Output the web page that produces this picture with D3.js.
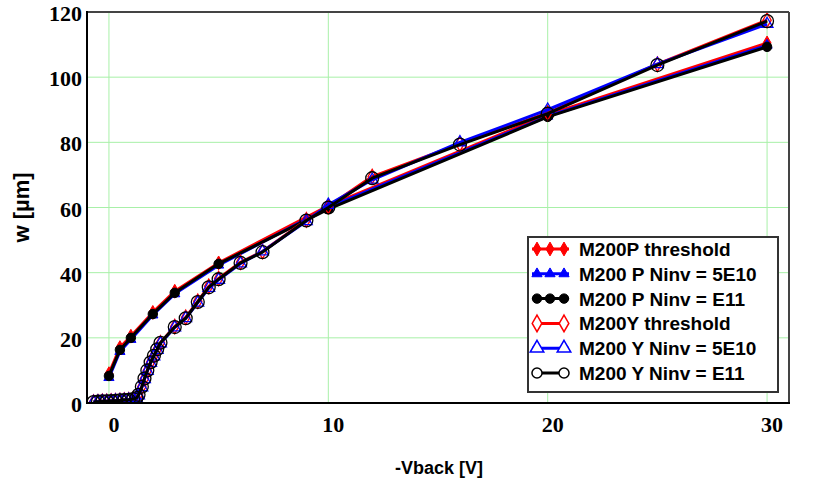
<!DOCTYPE html>
<html>
<head>
<meta charset="utf-8">
<script src="https://cdn.jsdelivr.net/npm/d3@7"></script>
<style>
  body { margin: 0; background: #fff; }
  .tick-label { font-family: "Liberation Serif", "Times New Roman", serif; font-weight: bold; font-size: 22px; }
  .title { font-family: "Liberation Sans", Arial, sans-serif; font-weight: bold; }
  .legend-text { font-family: "Liberation Sans", Arial, sans-serif; font-weight: bold; font-size: 19px; }
</style>
</head>
<body>
<svg id="chart" width="830" height="483"></svg>
<script>
// P (filled markers) series
let pV = [0, 0.5, 1, 2, 3, 5, 10, 20, 30];
let pThreshold = [9, 17, 20.5, 27.8, 34.3, 43, 60.5, 88.5, 110.5];
let p5E10 = [7.8, 15.8, 19.5, 27, 33.5, 42.3, 60, 88, 109.8];
let pE11 = [8.3, 16.3, 20, 27.3, 33.8, 42.7, 59.5, 87.8, 109.3];

// Y (open markers) series
let yV = [-0.7, -0.5, -0.3, -0.1, 0.1, 0.3, 0.5, 0.7, 0.9, 1.1, 1.25, 1.35, 1.5, 1.62, 1.75, 1.9, 2.05, 2.2, 2.35,
          3, 3.5, 4.05, 4.55, 5, 6, 7, 9, 10, 12, 16, 20, 25, 30];
let yThreshold = [0.3, 0.4, 0.5, 0.5, 0.6, 0.7, 0.8, 0.9, 1.0, 1.2, 1.5, 2.5, 5, 7.5, 10, 12.5, 14.5, 16.5, 18.5,
                  23.5, 26.3, 31.2, 35.8, 38.2, 43.2, 46.5, 56.2, 60.3, 69.5, 79.5, 89, 104, 117.5];
let y5E10 = [0.3, 0.4, 0.5, 0.5, 0.6, 0.7, 0.8, 0.9, 1.0, 1.2, 1.5, 2.3, 4.8, 7.3, 9.8, 12.3, 14.3, 16.3, 18.3,
             23.2, 26, 30.8, 35.3, 37.8, 42.8, 46.5, 55.8, 60.8, 68.5, 80, 90, 104, 116.3];
let yE11 = [0.3, 0.4, 0.5, 0.5, 0.6, 0.7, 0.8, 0.9, 1.0, 1.2, 1.5, 2.5, 5, 7.5, 10, 12.5, 14.5, 16.5, 18.5,
            23.3, 26, 31, 35.5, 38, 43, 46.3, 56, 60, 69, 79.3, 88.8, 103.7, 117.2];

let xTicks = [0, 10, 20, 30];
let yTicks = [0, 20, 40, 60, 80, 100, 120];

let series = [
    {name: 'M200P threshold', v: pV, w: pThreshold, color: 'red', shape: d3.symbolDiamond, filled: true, size: 55},
    {name: 'M200 P Ninv = 5E10', v: pV, w: p5E10, color: 'blue', shape: d3.symbolTriangle, filled: true, size: 45},
    {name: 'M200 P Ninv = E11', v: pV, w: pE11, color: 'black', shape: d3.symbolCircle, filled: true, size: 70},
    {name: 'M200Y threshold', v: yV, w: yThreshold, color: 'red', shape: d3.symbolDiamond, filled: false, size: 60},
    {name: 'M200 Y Ninv = 5E10', v: yV, w: y5E10, color: 'blue', shape: d3.symbolTriangle, filled: false, size: 60},
    {name: 'M200 Y Ninv = E11', v: yV, w: yE11, color: 'black', shape: d3.symbolCircle, filled: false, size: 130}
];

const pLeft = 87, pRight = 789, pTop = 12, pBottom = 403;
let svg = d3.select('#chart');

let x = d3.scaleLinear().domain([-1, 31]).range([pLeft, pRight]);
let y = d3.scaleLinear().domain([0, 120]).range([pBottom, pTop]);

// grid
let grid = svg.append('g');
grid.selectAll('.vg').data(xTicks).enter().append('line')
    .attr('x1', d => x(d)).attr('x2', d => x(d))
    .attr('y1', pTop).attr('y2', pBottom)
    .attr('stroke', '#a8f0a8').attr('stroke-width', 1);
grid.selectAll('.hg').data(yTicks).enter().append('line')
    .attr('x1', pLeft).attr('x2', pRight)
    .attr('y1', d => y(d)).attr('y2', d => y(d))
    .attr('stroke', '#a8f0a8').attr('stroke-width', 1);

svg.append('clipPath').attr('id', 'clip')
    .append('rect').attr('x', pLeft).attr('y', pTop).attr('width', pRight - pLeft).attr('height', pBottom - pTop);

let plot = svg.append('g').attr('clip-path', 'url(#clip)');
let line = d3.line().x(d => x(d[0])).y(d => y(d[1]));

series.forEach(s => {
    let pts = s.v.map((v, i) => [v, s.w[i]]);
    plot.append('path').datum(pts)
        .attr('d', line)
        .attr('fill', 'none')
        .attr('stroke', s.color)
        .attr('stroke-width', 3)
        .attr('stroke-linejoin', 'round');
    plot.selectAll(null).data(pts).enter().append('path')
        .attr('d', d3.symbol().type(s.shape).size(s.size))
        .attr('transform', d => 'translate(' + x(d[0]) + ',' + y(d[1]) + ')')
        .attr('fill', s.filled ? s.color : 'none')
        .attr('stroke', s.color)
        .attr('stroke-width', s.filled ? 1 : 1.3);
});

// frame
svg.append('line').attr('x1', pLeft).attr('x2', pRight).attr('y1', pTop).attr('y2', pTop)
    .attr('stroke', '#444').attr('stroke-width', 2);
svg.append('line').attr('x1', pRight).attr('x2', pRight).attr('y1', pTop).attr('y2', pBottom)
    .attr('stroke', '#444').attr('stroke-width', 2);
svg.append('line').attr('x1', pLeft).attr('x2', pLeft).attr('y1', pTop - 1).attr('y2', pBottom + 1)
    .attr('stroke', 'black').attr('stroke-width', 2);
svg.append('line').attr('x1', pLeft - 1).attr('x2', pRight + 1).attr('y1', pBottom).attr('y2', pBottom)
    .attr('stroke', 'black').attr('stroke-width', 2);

// tick labels
svg.selectAll('.xt').data(xTicks).enter().append('text')
    .classed('tick-label', true)
    .attr('x', d => x(d) + 5).attr('y', 432)
    .attr('text-anchor', 'middle')
    .text(d => d);
svg.selectAll('.yt').data(yTicks).enter().append('text')
    .classed('tick-label', true)
    .attr('x', 82).attr('y', d => y(d) + 9)
    .attr('text-anchor', 'end')
    .text(d => d);

// axis titles
svg.append('text').classed('title', true)
    .attr('x', 439).attr('y', 474)
    .attr('text-anchor', 'middle')
    .style('font-size', '18px')
    .text('-Vback [V]');
svg.append('text').classed('title', true)
    .attr('transform', 'translate(29,' + ((pTop + pBottom) / 2) + ') rotate(-90)')
    .attr('text-anchor', 'middle')
    .style('font-size', '22px')
    .text('w [µm]');

// legend
let legend = svg.append('g');
legend.append('rect')
    .attr('x', 528).attr('y', 237).attr('width', 250).attr('height', 155)
    .attr('fill', 'white').attr('stroke', '#333').attr('stroke-width', 2);

series.forEach((s, i) => {
    let ly = 249 + i * 24.8;
    legend.append('line')
        .attr('x1', 532).attr('x2', 569).attr('y1', ly).attr('y2', ly)
        .attr('stroke', s.color).attr('stroke-width', 3);
    let mx = s.filled ? [537, 550, 564] : [537, 564];
    legend.selectAll(null).data(mx).enter().append('path')
        .attr('d', d3.symbol().type(s.shape).size(s.filled ? s.size : 80))
        .attr('transform', d => 'translate(' + d + ',' + ly + ')')
        .attr('fill', s.filled ? s.color : 'white')
        .attr('stroke', s.color)
        .attr('stroke-width', s.filled ? 1 : 1.5);
    legend.append('text').classed('legend-text', true)
        .attr('x', 579).attr('y', ly + 7)
        .text(s.name);
});
</script>
</body>
</html>
